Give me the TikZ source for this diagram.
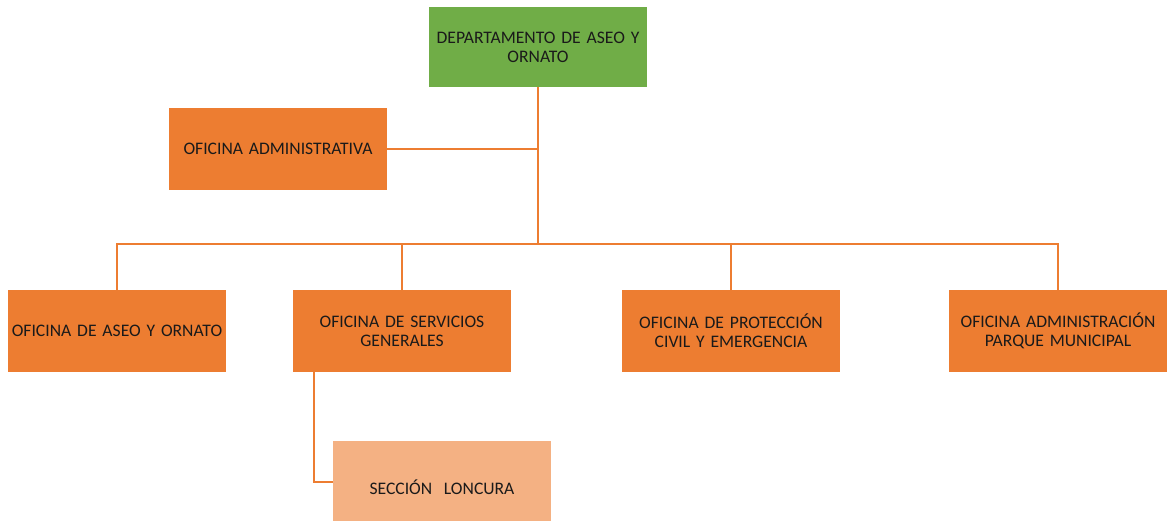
\documentclass[tikz,border=0pt]{standalone}
\usepackage{fontspec}
\setmainfont{Carlito}[WordSpace=0.85]
\definecolor{orgfill}{HTML}{ED7D31}
\definecolor{greenfill}{HTML}{70AD47}
\definecolor{lightorg}{HTML}{F4B183}
\definecolor{txt}{HTML}{1A1A1A}
\begin{document}
\begin{tikzpicture}[x=1pt,y=-1pt,
  unit/.style={rectangle, minimum width=218pt, minimum height=82pt, inner sep=0pt,
    text width=218pt, align=center, font=\fontsize{17.6}{19}\selectfont, text=txt},
  office/.style={unit, fill=orgfill},
  link/.style={draw=orgfill, line width=1.3pt}]
\useasboundingbox (0,0) rectangle (1167,520);

% head of the department
\node[unit, fill=greenfill, minimum height=80pt] (dept) at (538,47) {DEPARTAMENTO DE ASEO Y\\ORNATO};

% staff office
\node[office] (admin) at (278,149) {OFICINA ADMINISTRATIVA};

% line offices
\node[office] (aseo) at (117,331) {OFICINA DE ASEO Y ORNATO};
\node[office] (serv) at (402,331) {OFICINA DE SERVICIOS\\GENERALES};
\node[office] (prot) at (731,331) {OFICINA DE PROTECCIÓN\\CIVIL Y EMERGENCIA};
\node[office] (parque) at (1058,331) {OFICINA ADMINISTRACIÓN\\PARQUE MUNICIPAL};

% section under general services (runs past the lower edge)
\node[unit, fill=lightorg, minimum height=92pt] (lonc) at (442,487) {SECCIÓN\ \ LONCURA};

% connectors
\coordinate (bus) at (538,244);
\coordinate (spine) at (538,149);
\draw[link] (dept.south) -- (bus);
\draw[link] (admin.east) -- (spine);
\draw[link] (bus) -- (bus -| aseo.north) -- (aseo.north);
\draw[link] (bus) -- (bus -| parque.north) -- (parque.north);
\draw[link] (bus -| serv.north) -- (serv.north);
\draw[link] (bus -| prot.north) -- (prot.north);
\coordinate (drop) at (314,372);
\coordinate (elbow) at (314,482);
\draw[link] (drop) -- (elbow) -- (elbow -| lonc.west);
\end{tikzpicture}
\end{document}
